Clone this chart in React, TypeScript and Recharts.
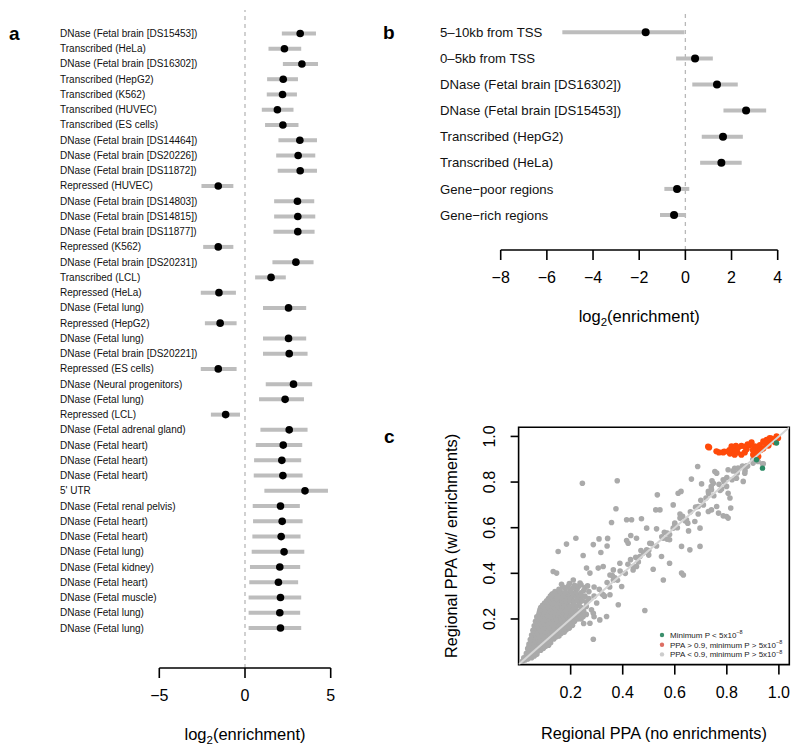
import React from "react";
import { ScatterChart, Scatter, XAxis, YAxis, ErrorBar, ReferenceLine, ReferenceArea, Label } from "recharts";

const FONT = "'Liberation Sans', Arial, Helvetica, sans-serif";

// ---- panel a ----
const labelsA = [
  "DNase (Fetal brain [DS15453])", "Transcribed (HeLa)", "DNase (Fetal brain [DS16302])", "Transcribed (HepG2)",
  "Transcribed (K562)", "Transcribed (HUVEC)", "Transcribed (ES cells)", "DNase (Fetal brain [DS14464])",
  "DNase (Fetal brain [DS20226])", "DNase (Fetal brain [DS11872])", "Repressed (HUVEC)", "DNase (Fetal brain [DS14803])",
  "DNase (Fetal brain [DS14815])", "DNase (Fetal brain [DS11877])", "Repressed (K562)", "DNase (Fetal brain [DS20231])",
  "Transcribed (LCL)", "Repressed (HeLa)", "DNase (Fetal lung)", "Repressed (HepG2)",
  "DNase (Fetal lung)", "DNase (Fetal brain [DS20221])", "Repressed (ES cells)", "DNase (Neural progenitors)",
  "DNase (Fetal lung)", "Repressed (LCL)", "DNase (Fetal adrenal gland)", "DNase (Fetal heart)",
  "DNase (Fetal heart)", "DNase (Fetal heart)", "5' UTR", "DNase (Fetal renal pelvis)",
  "DNase (Fetal heart)", "DNase (Fetal heart)", "DNase (Fetal lung)", "DNase (Fetal kidney)",
  "DNase (Fetal heart)", "DNase (Fetal muscle)", "DNase (Fetal lung)", "DNase (Fetal lung)",
];
const estA = [3.22, 2.3, 3.32, 2.23, 2.19, 1.89, 2.21, 3.2, 3.1, 3.22, -1.56, 3.06, 3.08, 3.08, -1.56, 2.97, 1.52, -1.52, 2.54, -1.45,
  2.54, 2.58, -1.56, 2.83, 2.34, -1.13, 2.58, 2.23, 2.15, 2.21, 3.5, 2.07, 2.17, 2.11, 2.28, 2.03, 1.95, 2.07, 2.03, 2.07];
const loA = [2.15, 1.37, 2.21, 1.29, 1.27, 0.98, 1.17, 1.95, 1.82, 1.91, -2.54, 1.7, 1.7, 1.66, -2.44, 1.6, 0.59, -2.58, 1.05, -2.34,
  1.05, 1.05, -2.58, 1.21, 0.82, -1.99, 0.9, 0.63, 0.53, 0.51, 1.13, 0.45, 0.47, 0.43, 0.39, 0.29, 0.25, 0.21, 0.21, 0.21];
const hiA = [4.14, 3.28, 4.26, 3.09, 3.03, 2.83, 3.12, 4.2, 4.1, 4.2, -0.68, 4.04, 4.1, 4.06, -0.68, 4.0, 2.38, -0.53, 3.57, -0.49,
  3.57, 3.65, -0.49, 3.92, 3.44, -0.29, 3.65, 3.34, 3.28, 3.36, 4.84, 3.2, 3.36, 3.24, 3.46, 3.22, 3.1, 3.28, 3.22, 3.28];
const ticksA = [-5, 0, 5];

// ---- panel b ----
const labelsB = [
  "5\u201310kb from TSS", "0\u20135kb from TSS", "DNase (Fetal brain [DS16302])", "DNase (Fetal brain [DS15453])",
  "Transcribed (HepG2)", "Transcribed (HeLa)", "Gene\u2212poor regions", "Gene\u2212rich regions",
];
const estB = [-1.72, 0.42, 1.37, 2.63, 1.63, 1.56, -0.36, -0.49];
const loB = [-5.33, -0.4, 0.3, 1.65, 0.71, 0.64, -0.91, -1.1];
const hiB = [-0.04, 1.19, 2.27, 3.5, 2.49, 2.44, 0.17, 0.03];
const ticksB = [-8, -6, -4, -2, 0, 2, 4];

// ---- panel c ----
const ticksC = [0.2, 0.4, 0.6, 0.8, 1.0];
const identity = [{ x: 0, y: 0 }, { x: 1.04, y: 1.04 }];

// dense low-PPA blob near the origin
const greyCluster: [number, number][] = [
  [0.015, 0.015], [0.025, 0.02], [0.02, 0.022], [0.03, 0.032],
  [0.02, 0.03], [0.035, 0.025], [0.04, 0.04], [0.05, 0.03],
  [0.03, 0.04], [0.045, 0.042], [0.06, 0.038],
  [0.03, 0.05], [0.045, 0.055], [0.06, 0.05], [0.07, 0.045], [0.075, 0.06],
  [0.04, 0.06], [0.055, 0.062], [0.07, 0.058], [0.085, 0.063],
  [0.035, 0.07], [0.05, 0.075], [0.065, 0.07], [0.08, 0.068], [0.095, 0.072],
  [0.04, 0.08], [0.058, 0.082], [0.073, 0.078], [0.088, 0.082], [0.103, 0.079],
  [0.04, 0.09], [0.055, 0.095], [0.07, 0.088], [0.085, 0.092], [0.1, 0.09], [0.115, 0.085],
  [0.048, 0.1], [0.062, 0.102], [0.078, 0.098], [0.093, 0.102], [0.108, 0.099], [0.123, 0.096],
  [0.045, 0.11], [0.06, 0.115], [0.075, 0.108], [0.09, 0.112], [0.105, 0.11], [0.12, 0.105], [0.135, 0.112],
  [0.052, 0.12], [0.068, 0.122], [0.083, 0.118], [0.098, 0.122], [0.113, 0.119], [0.128, 0.117], [0.143, 0.121],
  [0.05, 0.13], [0.065, 0.135], [0.08, 0.128], [0.095, 0.132], [0.11, 0.13], [0.125, 0.127], [0.14, 0.133], [0.155, 0.125],
  [0.058, 0.14], [0.072, 0.142], [0.088, 0.138], [0.103, 0.142], [0.118, 0.139], [0.133, 0.137], [0.148, 0.141], [0.163, 0.136],
  [0.055, 0.15], [0.07, 0.155], [0.085, 0.148], [0.1, 0.152], [0.115, 0.15], [0.13, 0.147], [0.145, 0.153], [0.16, 0.148], [0.175, 0.142],
  [0.062, 0.16], [0.078, 0.162], [0.093, 0.158], [0.108, 0.162], [0.123, 0.159], [0.138, 0.157], [0.153, 0.161], [0.168, 0.156], [0.183, 0.153],
  [0.06, 0.17], [0.075, 0.175], [0.09, 0.168], [0.105, 0.172], [0.12, 0.17], [0.135, 0.167], [0.15, 0.173], [0.165, 0.168], [0.18, 0.165], [0.195, 0.16],
  [0.068, 0.18], [0.083, 0.182], [0.098, 0.178], [0.113, 0.182], [0.128, 0.179], [0.143, 0.177], [0.158, 0.181], [0.173, 0.176], [0.19, 0.174], [0.207, 0.172],
  [0.065, 0.19], [0.08, 0.195], [0.095, 0.188], [0.11, 0.192], [0.125, 0.19], [0.14, 0.187], [0.155, 0.193], [0.17, 0.188], [0.185, 0.185], [0.2, 0.18], [0.215, 0.19],
  [0.072, 0.2], [0.088, 0.202], [0.103, 0.198], [0.118, 0.202], [0.133, 0.199], [0.148, 0.197], [0.163, 0.201], [0.178, 0.196], [0.195, 0.194], [0.213, 0.198], [0.228, 0.2],
  [0.07, 0.21], [0.085, 0.215], [0.1, 0.208], [0.115, 0.212], [0.13, 0.21], [0.145, 0.207], [0.16, 0.213], [0.175, 0.208], [0.19, 0.205], [0.205, 0.2], [0.22, 0.21],
  [0.078, 0.22], [0.092, 0.222], [0.108, 0.218], [0.123, 0.222], [0.138, 0.219], [0.153, 0.217], [0.168, 0.221], [0.183, 0.216], [0.198, 0.214], [0.212, 0.212], [0.228, 0.222], [0.245, 0.225],
  [0.08, 0.23], [0.095, 0.235], [0.11, 0.228], [0.125, 0.232], [0.14, 0.23], [0.155, 0.227], [0.17, 0.233], [0.185, 0.228], [0.2, 0.225], [0.215, 0.22], [0.235, 0.215],
  [0.082, 0.24], [0.098, 0.242], [0.113, 0.238], [0.128, 0.242], [0.143, 0.239], [0.158, 0.237], [0.173, 0.241], [0.188, 0.236], [0.203, 0.234], [0.228, 0.232], [0.25, 0.235],
  [0.085, 0.25], [0.1, 0.255], [0.115, 0.248], [0.13, 0.252], [0.145, 0.25], [0.16, 0.247], [0.175, 0.253], [0.19, 0.248], [0.205, 0.245], [0.22, 0.24],
  [0.092, 0.26], [0.108, 0.262], [0.123, 0.258], [0.138, 0.262], [0.153, 0.259], [0.168, 0.257], [0.183, 0.261], [0.198, 0.256], [0.215, 0.254], [0.24, 0.25], [0.26, 0.255],
  [0.1, 0.27], [0.115, 0.275], [0.13, 0.268], [0.145, 0.272], [0.16, 0.27], [0.175, 0.267], [0.19, 0.273], [0.21, 0.265], [0.23, 0.26],
  [0.108, 0.28], [0.123, 0.282], [0.138, 0.278], [0.153, 0.282], [0.168, 0.279], [0.183, 0.277], [0.198, 0.281], [0.215, 0.276], [0.235, 0.272], [0.26, 0.275],
  [0.115, 0.29], [0.13, 0.295], [0.145, 0.288], [0.16, 0.292], [0.175, 0.29], [0.19, 0.287], [0.205, 0.293], [0.225, 0.285], [0.245, 0.28],
  [0.122, 0.3], [0.138, 0.302], [0.153, 0.298], [0.168, 0.302], [0.183, 0.299], [0.198, 0.297], [0.215, 0.301], [0.24, 0.295],
  [0.13, 0.31], [0.15, 0.315], [0.17, 0.308], [0.19, 0.312], [0.21, 0.31], [0.23, 0.305], [0.255, 0.3],
  [0.14, 0.32], [0.16, 0.322], [0.18, 0.318], [0.2, 0.322], [0.22, 0.319], [0.24, 0.315],
  [0.155, 0.33], [0.18, 0.335], [0.2, 0.328], [0.225, 0.332], [0.25, 0.325], [0.27, 0.32],
  [0.17, 0.34], [0.19, 0.342], [0.21, 0.338], [0.23, 0.342], [0.255, 0.338],
  [0.165, 0.352], [0.195, 0.355], [0.215, 0.348], [0.24, 0.35], [0.265, 0.345], [0.29, 0.34],
  [0.24, 0.2], [0.26, 0.22], [0.28, 0.24], [0.25, 0.18], [0.29, 0.21],
];

const greyDiagonal: [number, number][] = [
  [0.29, 0.3], [0.31, 0.33], [0.32, 0.31], [0.34, 0.36], [0.35, 0.34], [0.37, 0.38], [0.38, 0.37], [0.39, 0.41], [0.41, 0.4],
  [0.42, 0.44], [0.44, 0.43], [0.45, 0.47], [0.46, 0.45], [0.48, 0.49], [0.5, 0.5], [0.51, 0.53], [0.53, 0.52], [0.55, 0.56],
  [0.56, 0.58], [0.58, 0.57], [0.6, 0.62], [0.61, 0.6], [0.63, 0.65], [0.64, 0.63], [0.66, 0.67], [0.68, 0.69], [0.7, 0.72],
  [0.71, 0.7], [0.73, 0.75], [0.75, 0.74], [0.77, 0.79], [0.78, 0.77], [0.8, 0.82], [0.82, 0.81], [0.84, 0.84], [0.86, 0.87],
  [0.88, 0.87], [0.9, 0.9], [0.92, 0.89], [0.5, 0.48], [0.47, 0.5], [0.43, 0.46], [0.36, 0.39], [0.33, 0.3], [0.3, 0.27],
  [0.27, 0.29], [0.57, 0.55], [0.62, 0.66], [0.65, 0.62], [0.69, 0.66], [0.72, 0.73], [0.74, 0.78], [0.79, 0.8], [0.83, 0.86],
  [0.87, 0.85], [0.91, 0.92], [0.94, 0.88],
];

const greyOutliers: [number, number][] = [
  [0.245, 0.795], [0.379, 0.806], [0.374, 0.683], [0.357, 0.623], [0.415, 0.635], [0.434, 0.635], [0.472, 0.639], [0.22, 0.554],
  [0.184, 0.528], [0.152, 0.496], [0.309, 0.551], [0.342, 0.553], [0.287, 0.526], [0.316, 0.491], [0.34, 0.52], [0.248, 0.478],
  [0.415, 0.544], [0.421, 0.532], [0.453, 0.554], [0.431, 0.566], [0.492, 0.598], [0.53, 0.595], [0.533, 0.744], [0.527, 0.678],
  [0.543, 0.678], [0.594, 0.7], [0.613, 0.751], [0.624, 0.759], [0.664, 0.813], [0.688, 0.868], [0.703, 0.792], [0.743, 0.806],
  [0.748, 0.795], [0.786, 0.81], [0.799, 0.781], [0.729, 0.759], [0.741, 0.766], [0.774, 0.763], [0.754, 0.846], [0.761, 0.839],
  [0.805, 0.854], [0.824, 0.849], [0.843, 0.861], [0.837, 0.817], [0.863, 0.803], [0.869, 0.839], [0.876, 0.871], [0.901, 0.883],
  [0.937, 0.88], [0.626, 0.518], [0.658, 0.503], [0.697, 0.518], [0.626, 0.401], [0.633, 0.393], [0.556, 0.371], [0.485, 0.237],
  [0.287, 0.111], [0.741, 0.678], [0.729, 0.671], [0.761, 0.693], [0.768, 0.664], [0.805, 0.751], [0.812, 0.73], [0.815, 0.686],
  [0.799, 0.649], [0.786, 0.652], [0.805, 0.642], [0.69, 0.693], [0.677, 0.627], [0.645, 0.635], [0.62, 0.642], [0.697, 0.598],
  [0.653, 0.586], [0.6, 0.613], [0.594, 0.598], [0.556, 0.554], [0.571, 0.576], [0.58, 0.547], [0.549, 0.474], [0.58, 0.444],
  [0.517, 0.418], [0.492, 0.503], [0.504, 0.532], [0.466, 0.474], [0.453, 0.43], [0.44, 0.415], [0.389, 0.444], [0.364, 0.415],
  [0.351, 0.393], [0.325, 0.43], [0.306, 0.423], [0.261, 0.423], [0.274, 0.401], [0.236, 0.357], [0.21, 0.371], [0.133, 0.408],
  [0.146, 0.401], [0.127, 0.306], [0.092, 0.257], [0.325, 0.306], [0.351, 0.306], [0.383, 0.262], [0.396, 0.342], [0.364, 0.371],
  [0.287, 0.225], [0.312, 0.196], [0.338, 0.211], [0.248, 0.211], [0.274, 0.181],
];

const orangePoints: [number, number][] = [
  [0.732, 0.952], [0.728, 0.955], [0.786, 0.93], [0.79, 0.934], [0.805, 0.934], [0.812, 0.925], [0.818, 0.956], [0.824, 0.942],
  [0.83, 0.92], [0.835, 0.959], [0.843, 0.95], [0.856, 0.959], [0.856, 0.92], [0.869, 0.93], [0.876, 0.944], [0.889, 0.962],
  [0.895, 0.974], [0.901, 0.92], [0.908, 0.956], [0.915, 0.934], [0.921, 0.912], [0.927, 0.962], [0.94, 0.978], [0.94, 0.947],
  [0.953, 0.985], [0.953, 0.962], [0.965, 0.993], [0.965, 0.978], [0.978, 0.982], [0.991, 1.0], [0.997, 0.993], [0.87, 0.955],
  [0.88, 0.965], [0.915, 0.95], [0.93, 0.94], [0.948, 0.97], [0.96, 0.96], [0.972, 0.99], [0.985, 0.975], [0.9, 0.94],
  [0.84, 0.93], [0.81, 0.94], [0.77, 0.93], [0.76, 0.935],
];

const greenPoints: [number, number][] = [[0.937, 0.861], [0.991, 0.971], [0.914, 0.898]];

const legendC = [
  { label: "Minimum P < 5x10", color: "#3b8f6c" },
  { label: "PPA > 0.9, minimum P > 5x10", color: "#dd6e63" },
  { label: "PPA < 0.9, minimum P > 5x10", color: "#cccccc" },
];

const minus = (v: number) => (v < 0 ? `\u2212${Math.abs(v)}` : `${v}`);
const toXY = (pts: [number, number][]) => pts.map(([x, y]) => ({ x, y }));

const EnrichTitle = (props: any) => {
  const vb = props.viewBox;
  return (
    <text x={vb.x + vb.width / 2} y={vb.y + 72} textAnchor="middle" fontSize={16.5} fontFamily={FONT} fill="#000">
      log<tspan fontSize={11.5} dy={4}>2</tspan><tspan dy={-4}>(enrichment)</tspan>
    </text>
  );
};

function Forest(props: {
  labels: string[]; est: number[]; lo: number[]; hi: number[]; ticks: number[];
  width: number; height: number; axisWidth: number; right: number; top: number; axisHeight: number;
  yDomain: [number, number]; labelX: number; labelSize: number; dotR: number;
}) {
  const { labels, est, lo, hi, ticks } = props;
  const rows = labels.map((_, i) => ({ row: i + 1, v: est[i], err: [est[i] - lo[i], hi[i] - est[i]] }));
  const RowTick = (p: any) => (
    <text x={props.labelX} y={p.y} dy="0.35em" textAnchor="start" fontSize={props.labelSize} fontFamily={FONT} fill="#111">
      {labels[p.payload.value - 1]}
    </text>
  );
  return (
    <ScatterChart width={props.width} height={props.height} margin={{ top: props.top, right: props.right, bottom: 0, left: 0 }}>
      <XAxis
        type="number" dataKey="v" domain={[ticks[0], ticks[ticks.length - 1]]} ticks={ticks} interval={0}
        height={props.axisHeight} tickSize={10} tickMargin={12} tickFormatter={minus}
        axisLine={{ stroke: "#000", strokeWidth: 1.6 }} tickLine={{ stroke: "#000", strokeWidth: 1.6 }}
        tick={{ fill: "#000", fontSize: 16, fontFamily: FONT }}
      >
        <Label content={EnrichTitle} />
      </XAxis>
      <YAxis
        type="number" dataKey="row" domain={props.yDomain} reversed ticks={labels.map((_, i) => i + 1)} interval={0}
        width={props.axisWidth} axisLine={false} tickLine={false} tick={RowTick}
      />
      <ReferenceLine x={0} stroke="#b8b8b8" strokeWidth={1.3} strokeDasharray="4 4" />
      <Scatter
        data={rows} isAnimationActive={false}
        shape={(p: any) => <circle cx={p.cx} cy={p.cy} r={props.dotR} fill="#000" />}
      >
        <ErrorBar dataKey="err" direction="x" width={0} stroke="#bdbdbd" strokeWidth={4} isAnimationActive={false} />
      </Scatter>
    </ScatterChart>
  );
}

const dot = (r: number, fill: string) => (p: any) => <circle cx={p.cx} cy={p.cy} r={r} fill={fill} />;

const RotTick = (p: any) => (
  <text x={110} y={p.y} textAnchor="middle" dominantBaseline="central" fontSize={16} fontFamily={FONT} fill="#000"
    transform={`rotate(-90 110 ${p.y})`}>
    {Number(p.payload.value).toFixed(1)}
  </text>
);

const YTitleC = (props: any) => {
  const vb = props.viewBox;
  const cy = vb.y + vb.height / 2;
  return (
    <text x={71} y={cy} textAnchor="middle" dominantBaseline="central" fontSize={16.3} fontFamily={FONT} fill="#000"
      transform={`rotate(-90 71 ${cy})`}>
      Regional PPA (w/ enrichments)
    </text>
  );
};

const XTitleC = (props: any) => {
  const vb = props.viewBox;
  return (
    <text x={vb.x + vb.width / 2} y={vb.y + 74} textAnchor="middle" fontSize={16.3} fontFamily={FONT} fill="#000">
      Regional PPA (no enrichments)
    </text>
  );
};

function PanelC() {
  return (
    <ScatterChart width={420} height={342} margin={{ top: 17.3, right: 10.7, bottom: 0, left: 0 }}>
      <XAxis
        type="number" dataKey="x" domain={[0, 1.04]} ticks={ticksC} interval={0} height={87.4} allowDataOverflow
        tickSize={10} tickMargin={12} tickFormatter={(v: number) => v.toFixed(1)} axisLine={false}
        tickLine={{ stroke: "#000", strokeWidth: 1.6 }} tick={{ fill: "#000", fontSize: 16, fontFamily: FONT }}
      >
        <Label content={XTitleC} />
      </XAxis>
      <YAxis
        type="number" dataKey="y" domain={[0, 1.04]} ticks={ticksC} interval={0} width={138.6} allowDataOverflow
        tickSize={8} axisLine={false} tickLine={{ stroke: "#000", strokeWidth: 1.6 }} tick={RotTick}
      >
        <Label content={YTitleC} />
      </YAxis>
      <Scatter data={toXY([...greyCluster, ...greyDiagonal, ...greyOutliers])} isAnimationActive={false} shape={dot(2.8, "#aaaaaa")} />
      <Scatter data={toXY(orangePoints)} isAnimationActive={false} shape={dot(3.1, "#ff4a0a")} />
      <Scatter
        data={identity} isAnimationActive={false} line={{ stroke: "#d6d6d6", strokeWidth: 2 }} shape={() => <g />}
      />
      <Scatter data={toXY(greenPoints)} isAnimationActive={false} shape={dot(2.7, "#2a8a64")} />
      <ReferenceArea x1={0} x2={1.04} y1={0} y2={1.04} fill="none" stroke="#000" strokeWidth={1.6} />
    </ScatterChart>
  );
}

export default function App() {
  return (
    <div style={{ position: "absolute", left: 0, top: 0, width: 800, height: 752, background: "#fff", fontFamily: FONT }}>
      <div style={{ position: "absolute", left: 0, top: 0 }}>
        <Forest
          labels={labelsA} est={estA} lo={loA} hi={hiA} ticks={ticksA}
          width={380} height={752} axisWidth={159.3} right={49.3} top={10} axisHeight={84}
          yDomain={[-0.54, 42.62]} labelX={60} labelSize={10} dotR={3.8}
        />
      </div>
      <div style={{ position: "absolute", left: 380, top: 0 }}>
        <Forest
          labels={labelsB} est={estB} lo={loB} hi={hiB} ticks={ticksB}
          width={420} height={340} axisWidth={120.7} right={22.3} top={10} axisHeight={90}
          yDomain={[0.146, 9.34]} labelX={60} labelSize={13.2} dotR={4}
        />
      </div>
      <div style={{ position: "absolute", left: 380, top: 410 }}>
        <PanelC />
      </div>
      <svg width={800} height={752} style={{ position: "absolute", left: 0, top: 0, pointerEvents: "none" }}>
        <g fontFamily={FONT} fontWeight="bold" fontSize={19} fill="#000">
          <text x={9} y={40}>a</text>
          <text x={383} y={39}>b</text>
          <text x={384} y={443}>c</text>
        </g>
        {legendC.map((l, i) => (
          <g key={l.label}>
            <circle cx={662} cy={635 + i * 9.7} r={2.2} fill={l.color} />
            <text x={670} y={635 + i * 9.7} dy="0.35em" fontSize={8} fontFamily={FONT} fill="#222">
              {l.label}
              <tspan fontSize={5.5} dy={-3.5}>{"\u22128"}</tspan>
            </text>
          </g>
        ))}
      </svg>
    </div>
  );
}
